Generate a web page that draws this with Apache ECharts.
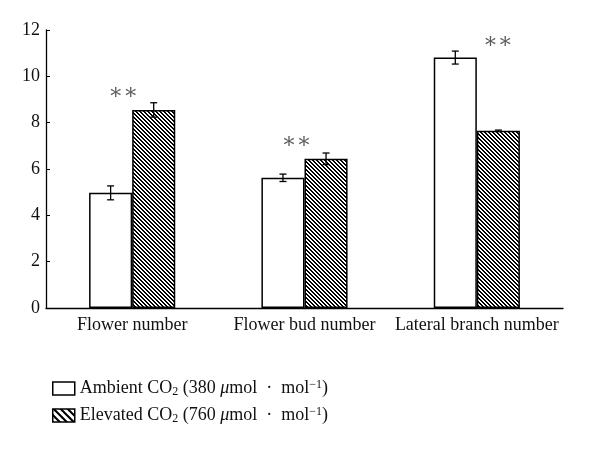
<!DOCTYPE html>
<html><head><meta charset="utf-8">
<script src="https://cdn.jsdelivr.net/npm/echarts@6/dist/echarts.min.js"></script>
<style>html,body{margin:0;padding:0;background:#fff}#c{width:600px;height:457px}</style>
</head><body><div id="c"></div>
<script>
var categories = ['Flower number', 'Flower bud number', 'Lateral branch number'];
var ambient = [4.97, 5.62, 10.81];
var ambientErr = [0.30, 0.16, 0.28];
var elevated = [8.55, 6.44, 7.65];
var elevatedErr = [0.31, 0.25, 0.03];
var yTicks = [0, 2, 4, 6, 8, 10, 12];
var sigMarks = [[0, 9.31, -9], [1, 7.2, -8], [2, 11.53, 21]];

function hatch(period, black) {
  var c = document.createElement('canvas');
  c.width = period; c.height = period;
  var g = c.getContext('2d');
  g.fillStyle = '#fff'; g.fillRect(0, 0, period, period);
  g.fillStyle = '#000';
  for (var y = 0; y < period; y++) {
    for (var x = 0; x < period; x++) {
      if (((x - y) % period + period) % period < black) g.fillRect(x, y, 1, 1);
    }
  }
  return {image: c, repeat: 'repeat'};
}
var barHatch = hatch(4, 2);
var legendHatch = hatch(7, 3);

var serif = '"Liberation Serif", "DejaVu Serif", serif';
var rich = {
  sub: {fontSize: 12, fontFamily: serif, color: '#111', padding: [7, 0, 0, 0], lineHeight: 18},
  sup: {fontSize: 12, fontFamily: serif, color: '#111', padding: [0, 0, 7, 0], lineHeight: 18},
  it: {fontSize: 18, fontFamily: serif, fontStyle: 'italic', color: '#111', lineHeight: 18},
  n: {fontSize: 18, fontFamily: serif, color: '#111', lineHeight: 18}
};

function errSeries(name, vals, errs, side) {
  return {
    type: 'custom', name: name + ' err', silent: true, z: 5,
    data: vals.map(function (v, i) { return [i, v, errs[i]]; }),
    renderItem: function (params, api) {
      var i = api.value(0), v = api.value(1), e = api.value(2);
      var w = api.size([1, 0])[0];
      var top = api.coord([i, v + e]);
      var bot = api.coord([i, v - e]);
      var x = top[0] + side * w * 0.125;
      var cap = 3.5;
      var st = {stroke: '#000', lineWidth: 1.3};
      return {type: 'group', children: [
        {type: 'line', shape: {x1: x, y1: top[1], x2: x, y2: bot[1]}, style: st},
        {type: 'line', shape: {x1: x - cap, y1: top[1], x2: x + cap, y2: top[1]}, style: st},
        {type: 'line', shape: {x1: x - cap, y1: bot[1], x2: x + cap, y2: bot[1]}, style: st}
      ]};
    }
  };
}

var chart = echarts.init(document.getElementById('c'));
chart.setOption({
  animation: false,
  backgroundColor: '#fff',
  grid: {left: 46, right: 37, top: 30, bottom: 149, containLabel: false},
  legend: {
    orient: 'vertical', left: 47, top: 374, itemWidth: 22, itemHeight: 13, itemGap: 8,
    icon: 'rect',
    textStyle: {fontSize: 18, fontFamily: serif, color: '#111', rich: rich},
    data: [
      {name: 'Ambient', itemStyle: {color: '#fff', borderColor: '#000', borderWidth: 1.5}},
      {name: 'Elevated', itemStyle: {color: legendHatch, borderColor: '#000', borderWidth: 1.5}}
    ],
    formatter: function (n) {
      return n === 'Ambient'
        ? '{n|Ambient CO}{sub|2}{n| (380 }{it|μ}{n|mol  ·  mol}{sup|−1}{n|)}'
        : '{n|Elevated CO}{sub|2}{n| (760 }{it|μ}{n|mol  ·  mol}{sup|−1}{n|)}';
    }
  },
  xAxis: {
    type: 'category', data: categories,
    axisLine: {lineStyle: {color: '#000', width: 1.3}},
    axisTick: {inside: true, length: 4, lineStyle: {color: '#000'}},
    axisLabel: {fontSize: 18, fontFamily: serif, color: '#111', margin: 8, interval: 0}
  },
  yAxis: {
    type: 'value', min: 0, max: 12, interval: 2,
    splitLine: {show: false},
    axisLine: {show: true, lineStyle: {color: '#000', width: 1.3}},
    axisTick: {show: true, inside: true, length: 4, lineStyle: {color: '#000'}},
    axisLabel: {fontSize: 18, fontFamily: serif, color: '#111', margin: 6,
      formatter: function (v) { return yTicks.indexOf(v) >= 0 ? String(v) : ''; }}
  },
  series: [
    {name: 'Ambient', type: 'bar', data: ambient, barWidth: '25%', barGap: '0%',
      itemStyle: {color: '#fff', borderColor: '#000', borderWidth: 1.5}},
    {name: 'Elevated', type: 'bar', data: elevated, barWidth: '25%', barGap: '0%',
      itemStyle: {color: barHatch, borderColor: '#000', borderWidth: 1.5}},
    errSeries('Ambient', ambient, ambientErr, -1),
    errSeries('Elevated', elevated, elevatedErr, 1),
    {type: 'scatter', name: 'sig', symbolSize: 0, silent: true, z: 6,
      data: sigMarks.map(function (m) { return {value: [m[0], m[1]], label: {offset: [m[2], 1]}}; }),
      label: {show: true, position: 'inside', formatter: '∗∗', fontSize: 22, fontFamily: serif, color: '#333'}}
  ]
});
</script></body></html>
